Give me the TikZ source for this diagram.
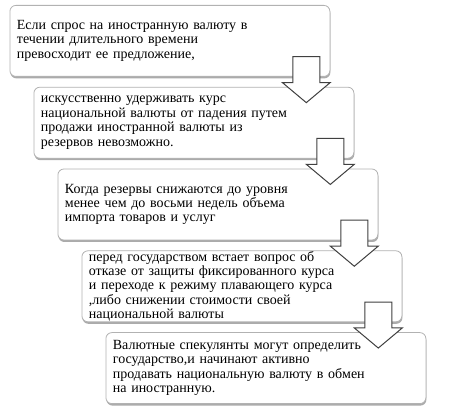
\documentclass[tikz,border=0pt]{standalone}
\usepackage{fontspec}
\setmainfont{Liberation Serif}
\usepackage{tikz}
\usetikzlibrary{calc,shapes.arrows,shadows}

\begin{document}
\begin{tikzpicture}[x=1pt,y=1pt]
    \tikzstyle{stage box}=[draw=black!30,fill=white,rounded corners=6,line width=.8pt,
        minimum height=71pt,text width=306pt,inner xsep=7pt,inner ysep=0pt,align=left,anchor=north west,
        font=\fontsize{14}{14.4}\selectfont,
        drop shadow={shadow xshift=.5pt,shadow yshift=-2pt,fill=black!55,opacity=.6}]
    \tikzstyle{down arrow}=[single arrow,draw=black!75,fill=white,line width=1pt,rotate=-90,
        minimum height=46pt,single arrow head extend=10.5pt,
        single arrow tip angle=100,inner xsep=0pt,inner ysep=13pt,anchor=tip]
    \useasboundingbox (0,0) rectangle (461,-406);

    \node(1)[stage box] at (9.5,-5) {Если спрос на иностранную валюту в\\
        течении длительного времени\\
        превосходит ее предложение,};
    \node(2)[stage box] at ($(1.south west)+(24,-10)$) {искусственно удерживать курс\\
        национальной валюты от падения путем\\
        продажи иностранной валюты из\\
        резервов невозможно.};
    \node(3)[stage box] at ($(2.south west)+(24,-10)$) {Когда резервы снижаются до уровня\\
        менее чем до восьми недель объема\\
        импорта товаров и услуг};
    \node(4)[stage box] at ($(3.south west)+(24,-10)$) {перед государством встает вопрос об\\
        отказе от защиты фиксированного курса\\
        и переходе к режиму плавающего курса\\
        ,либо снижении стоимости своей\\
        национальной валюты};
    \node(5)[stage box] at ($(4.south west)+(24,-10)$) {Валютные спекулянты могут определить\\
        государство,и начинают активно\\
        продавать национальную валюту в обмен\\
        на иностранную.};
% arrows between the stages
    \node(a1)[down arrow] at ($(2.north east)+(-48,-16.5)$) {};
    \node(a2)[down arrow] at ($(3.north east)+(-48,-16.5)$) {};
    \node(a3)[down arrow] at ($(4.north east)+(-48,-16.5)$) {};
    \node(a4)[down arrow] at ($(5.north east)+(-48,-16.5)$) {};
\end{tikzpicture}
\end{document}
